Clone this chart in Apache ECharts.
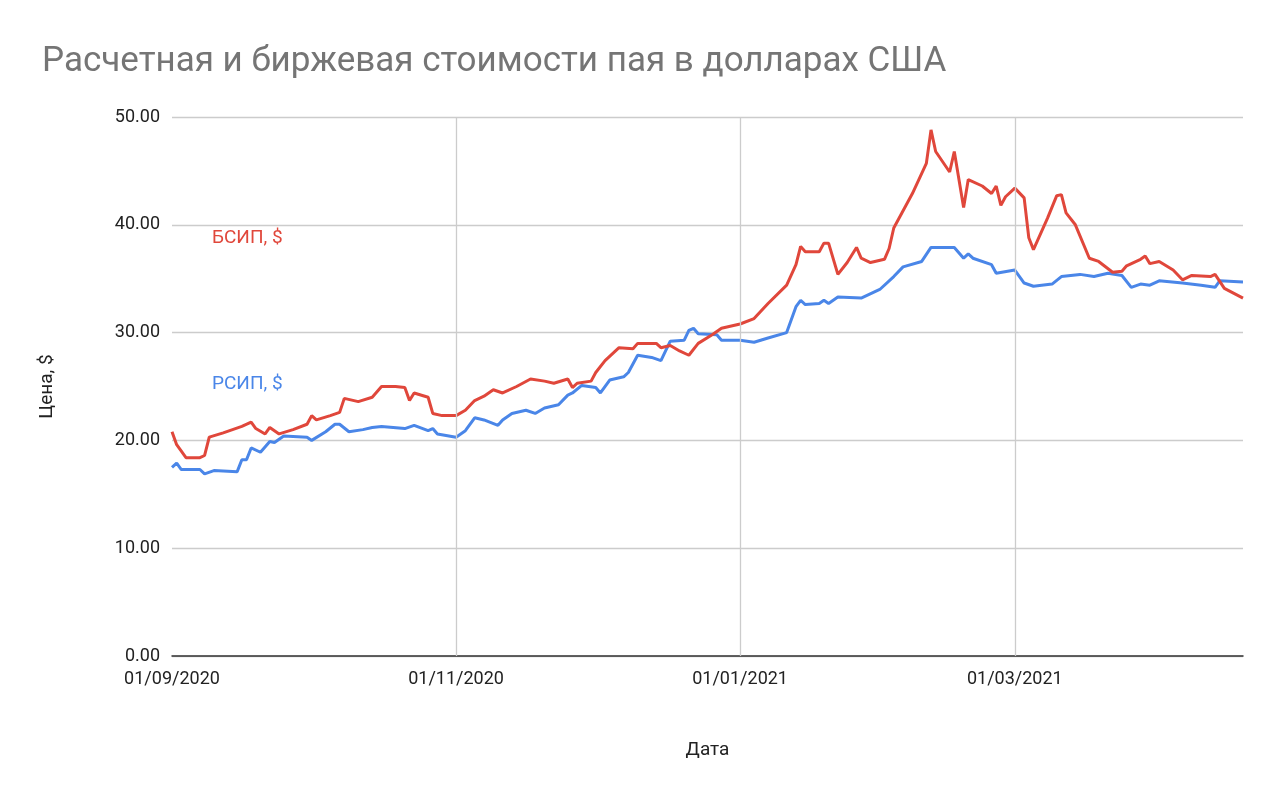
<!DOCTYPE html>
<html><head><meta charset="utf-8">
<script src="https://cdn.jsdelivr.net/npm/echarts@6/dist/echarts.min.js"></script>
<style>html,body{margin:0;padding:0;background:#fff}#c{width:1280px;height:791px}</style>
</head><body><div id="c"></div>
<script>
const startDate = [2020, 8, 1];
const endDay = 230;
const tickDays = [0, 61, 122, 181];
const yTicks = [0, 10, 20, 30, 40, 50];
const bsipDays = [0,1,3,6,7,8,11,15,17,18,20,21,23,26,29,30,31,34,36,37,40,43,45,48,50,51,52,55,56,58,61,63,65,67,69,71,74,77,80,82,85,86,87,90,91,93,96,99,100,104,105,107,109,111,113,116,118,122,125,128,132,134,135,136,139,140,141,143,145,147,148,150,153,154,155,157,159,162,163,164,167,168,170,171,174,176,177,178,179,181,183,184,185,188,190,191,192,194,197,199,202,204,205,208,209,210,212,215,217,219,223,224,226,230];
const bsipValues = [20.8,19.6,18.4,18.4,18.6,20.3,20.7,21.3,21.7,21.1,20.6,21.2,20.6,21.0,21.5,22.3,21.9,22.3,22.6,23.9,23.6,24.0,25.0,25.0,24.9,23.7,24.4,24.0,22.5,22.3,22.3,22.8,23.7,24.1,24.7,24.4,25.0,25.7,25.5,25.3,25.7,24.9,25.3,25.5,26.3,27.4,28.6,28.5,29.0,29.0,28.6,28.8,28.3,27.9,29.0,29.8,30.4,30.8,31.3,32.7,34.4,36.3,38.0,37.5,37.5,38.3,38.3,35.4,36.5,37.9,36.9,36.5,36.8,37.8,39.7,41.3,42.9,45.7,48.8,46.8,44.9,46.8,41.6,44.2,43.6,42.9,43.6,41.8,42.6,43.4,42.5,38.8,37.7,40.6,42.7,42.8,41.1,40.0,36.9,36.6,35.6,35.7,36.2,36.8,37.1,36.4,36.6,35.8,34.9,35.3,35.2,35.4,34.1,33.2];
const rsipDays = [0,1,2,6,7,9,14,15,16,17,19,21,22,24,29,30,33,35,36,38,41,43,45,50,52,55,56,57,61,63,65,67,70,71,73,76,78,80,83,85,86,88,91,92,94,97,98,100,103,105,107,110,111,112,113,117,118,122,125,128,132,134,135,136,139,140,141,143,148,152,155,157,161,163,168,170,171,172,176,177,181,183,185,189,191,195,198,201,204,206,208,210,212,217,221,224,225,230];
const rsipValues = [17.5,17.9,17.3,17.3,16.9,17.2,17.1,18.2,18.2,19.3,18.9,19.9,19.8,20.4,20.3,20.0,20.8,21.5,21.5,20.8,21.0,21.2,21.3,21.1,21.4,20.9,21.1,20.6,20.3,20.9,22.1,21.9,21.4,21.9,22.5,22.8,22.5,23.0,23.3,24.2,24.4,25.1,24.9,24.4,25.6,25.9,26.3,27.9,27.7,27.4,29.2,29.3,30.2,30.4,29.9,29.8,29.3,29.3,29.1,29.5,30.0,32.4,33.0,32.6,32.7,33.0,32.7,33.3,33.2,34.0,35.2,36.1,36.6,37.9,37.9,36.9,37.3,36.9,36.3,35.5,35.8,34.6,34.3,34.5,35.2,35.4,35.2,35.5,35.3,34.2,34.5,34.4,34.8,34.6,34.4,34.2,34.8,34.7];

const pad = n => (n < 10 ? '0' : '') + n;
const fmtDay = d => { const t = new Date(startDate[0], startDate[1], startDate[2] + d); return pad(t.getDate()) + '/' + pad(t.getMonth() + 1) + '/' + t.getFullYear(); };
const RED = '#e0473b', BLUE = '#4a86e8';
const FONT = 'Roboto, Arial, sans-serif';
const chart = echarts.init(document.getElementById('c'));
chart.setOption({
  animation: false,
  title: { text: 'Расчетная и биржевая стоимости пая в долларах США', left: 37, top: 40,
    textStyle: { color: '#757575', fontSize: 35, fontWeight: 'normal', fontFamily: FONT } },
  grid: { left: 172, right: 37, top: 117, bottom: 135 },
  xAxis: { type: 'value', min: 0, max: endDay, interval: 1,
    name: 'Дата', nameLocation: 'middle', nameGap: 85,
    nameTextStyle: { color: '#222', fontSize: 19, fontFamily: FONT },
    axisLine: { lineStyle: { color: '#333', width: 1.5 } },
    axisTick: { show: false },
    splitLine: { show: false },
    axisLabel: { interval: 0, formatter: v => tickDays.indexOf(Math.round(v)) >= 0 ? fmtDay(Math.round(v)) : '',
      color: '#222', fontSize: 18, margin: 14, fontFamily: FONT, hideOverlap: false } },
  yAxis: { type: 'value', min: yTicks[0], max: yTicks[yTicks.length - 1], interval: 10,
    name: 'Цена, $', nameLocation: 'middle', nameGap: 115, nameRotate: 90,
    nameTextStyle: { color: '#222', fontSize: 19, fontFamily: FONT },
    axisLine: { show: false }, axisTick: { show: false },
    splitLine: { lineStyle: { color: '#cccccc', width: 1.3 } },
    axisLabel: { formatter: v => v.toFixed(2), color: '#222', fontSize: 18, margin: 12, fontFamily: FONT } },
  series: [
    { name: 'РСИП, $', type: 'line', showSymbol: false, color: BLUE, lineStyle: { width: 3 },
      data: rsipDays.map((d, i) => [d, rsipValues[i]]),
      markLine: { silent: true, symbol: 'none', label: { show: false },
        lineStyle: { color: '#cccccc', type: 'solid', width: 1.3 },
        data: tickDays.slice(1).map(d => ({ xAxis: d })) } },
    { name: 'БСИП, $', type: 'line', showSymbol: false, color: RED, lineStyle: { width: 3 },
      data: bsipDays.map((d, i) => [d, bsipValues[i]]) }
  ],
  graphic: [
    { type: 'text', left: 212, top: 229, style: { text: 'БСИП, $', fill: RED, fontSize: 19, fontFamily: FONT } },
    { type: 'text', left: 212, top: 375, style: { text: 'РСИП, $', fill: BLUE, fontSize: 19, fontFamily: FONT } }
  ]
});
</script></body></html>
